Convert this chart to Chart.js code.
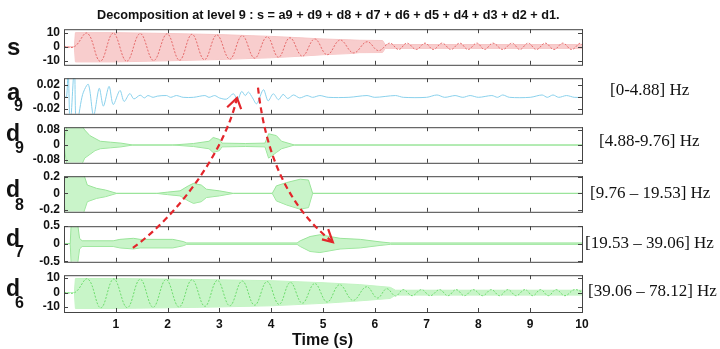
<!DOCTYPE html>
<html>
<head>
<meta charset="utf-8">
<script src="https://cdn.jsdelivr.net/npm/chart.js@4.4.1/dist/chart.umd.min.js"></script>
<style>
  body { margin: 0; background: #fff; }
  #fig { position: relative; width: 720px; height: 349px; overflow: hidden; background: #fff;
         font-family: "Liberation Sans", Arial, sans-serif; color: #111; }
  .panel { position: absolute; left: 0; }
  .lbl { position: absolute; font-weight: bold; line-height: 1; white-space: nowrap; }
  .hz { position: absolute; font-family: "Liberation Serif", "Times New Roman", serif; font-size: 17px;
        line-height: 17px; white-space: nowrap; color: #111; }
  #overlay { position: absolute; left: 0; top: 0; pointer-events: none; }
</style>
</head>
<body>
<div id="fig">
  <canvas class="panel" id="pS"  width="720" height="58" style="top:18px"></canvas>
  <canvas class="panel" id="pA9" width="720" height="58" style="top:67px"></canvas>
  <canvas class="panel" id="pD9" width="720" height="58" style="top:116px"></canvas>
  <canvas class="panel" id="pD8" width="720" height="58" style="top:165px"></canvas>
  <canvas class="panel" id="pD7" width="720" height="58" style="top:215px"></canvas>
  <canvas class="panel" id="pD6" width="720" height="78" style="top:264px"></canvas>

  <div class="lbl" style="left:97px;top:9px;font-size:12.7px">Decomposition at level 9 : s = a9 + d9 + d8 + d7 + d6 + d5 + d4 + d3 + d2 + d1.</div>

  <div class="lbl" style="left:7px;top:35px;font-size:24px">s</div>
  <div class="lbl" style="left:7px;top:80px;font-size:24px">a</div>
  <div class="lbl" style="left:14px;top:98px;font-size:16px">9</div>
  <div class="lbl" style="left:6px;top:121.5px;font-size:23px">d</div>
  <div class="lbl" style="left:15px;top:139.5px;font-size:16px">9</div>
  <div class="lbl" style="left:6px;top:177.5px;font-size:23px">d</div>
  <div class="lbl" style="left:15px;top:196.5px;font-size:16px">8</div>
  <div class="lbl" style="left:6px;top:226.5px;font-size:23px">d</div>
  <div class="lbl" style="left:15px;top:244px;font-size:16px">7</div>
  <div class="lbl" style="left:6px;top:277px;font-size:23px">d</div>
  <div class="lbl" style="left:15px;top:295px;font-size:16px">6</div>

  <div class="hz" style="left:610px;top:81px">[0-4.88] Hz</div>
  <div class="hz" style="left:599px;top:132px">[4.88-9.76] Hz</div>
  <div class="hz" style="left:590px;top:184px">[9.76 – 19.53] Hz</div>
  <div class="hz" style="left:585px;top:234px">[19.53 – 39.06] Hz</div>
  <div class="hz" style="left:588px;top:282px">[39.06 – 78.12] Hz</div>

  <div class="lbl" style="left:292px;top:331.5px;font-size:16px">Time (s)</div>

  <canvas id="overlay" width="720" height="349"></canvas>
</div>

<script>
// time axis (s)
const timeTicks = [1, 2, 3, 4, 5, 6, 7, 8, 9, 10];

// s : original signal (dense band + visible slow wave)
const sBandTime = [0, 0.2, 0.22, 1, 2, 3, 4, 4.5, 5, 5.5, 5.7, 6.15, 6.2, 10];
const sBandHigh = [0, 0, 10.2, 10.2, 9.6, 8.8, 7.5, 6.6, 5.6, 5, 4.7, 4.5, 1.6, 1.6];
const sBandLow  = [0, 0, -11, -11, -10.2, -9.3, -8, -7, -5.8, -5, -4.3, -4.2, -1.3, -1.3];
const sWaveTime = [0, 0.2, 0.45, 0.7, 0.95, 1.21, 1.47, 1.73, 1.99, 2.23, 2.47, 2.71, 2.95, 3.2, 3.44, 3.68, 3.92, 4.14, 4.36, 4.6,
                   4.84, 5.08, 5.33, 5.59, 5.85, 6.07, 6.29, 6.46, 6.62, 6.8, 6.97, 7.13, 7.3, 7.47, 7.64, 7.8, 7.97, 8.12, 8.28, 8.47,
                   8.65, 8.8, 8.96, 9.12, 9.29, 9.46, 9.63, 9.8, 9.96, 10];
const sWaveValue = [0, 0, 9.8, -10.5, 9.8, -10.5, 9.5, -10, 9.3, -9.8, 9, -9.4, 8.5, -9, 8, -8.3, 7.2, -7.6, 6.5, -6.8,
                    5.6, -5.8, 4.8, -4.5, 3.6, -2.8, 2.6, -2, 2.6, -2, 2.6, -2, 2.6, -2, 2.6, -2, 2.6, -2, 2.6, -2,
                    2.6, -2, 2.6, -2, 2.6, -2, 2.6, -2, 2.6, 1.5];
const sTicks = [-10, 0, 10];

// a9 : approximation [0-4.88] Hz
const a9Time = [0, 0.05, 0.08, 0.12, 0.2, 0.24, 0.36, 0.47, 0.57, 0.68, 0.76, 0.87, 0.95, 1.08, 1.16, 1.27, 1.35, 1.47, 1.55, 1.62,
                1.72, 1.8, 1.98, 2.06, 2.17, 2.3, 2.5, 2.72, 2.8, 2.91, 3.0, 3.14, 3.27, 3.35, 3.43, 3.5, 3.56, 3.64, 3.72, 3.85,
                3.94, 4.04, 4.14, 4.23, 4.32, 4.43, 4.55, 4.69, 4.8, 4.94, 5.1, 5.5, 5.85, 6.0, 6.4, 6.55, 7.0, 7.2, 7.35, 7.55,
                7.7, 7.84, 8.0, 8.26, 8.37, 8.47, 8.6, 9.0, 9.23, 9.33, 9.44, 9.55, 9.7, 9.85, 10];
const a9Value = [0, 0, 0.05, -0.05, 0.05, -0.05, 0.004, 0.021, -0.032, 0.0144, -0.016, 0.0176, -0.0133, 0.0107, -0.008, 0.0053, -0.0037, 0.0027, -0.002, 0.002,
                 -0.001, 0.001, 0.002, -0.001, 0.002, -0.001, -0.001, 0.002, -0.001, 0.002, -0.002, -0.004, 0.005, -0.005, 0.009, 0.002, 0.008, -0.002, -0.012, 0.012,
                 -0.007, 0.005, -0.005, 0.004, -0.003, 0.003, -0.002, 0.002, -0.001, 0.002, -0.001, -0.001, 0.002, -0.001, 0.002, -0.001, -0.001, 0.003, -0.001, 0.002,
                 -0.001, 0.002, -0.001, 0.002, -0.001, 0.003, -0.001, -0.001, 0.003, -0.001, 0.003, -0.001, 0.002, -0.001, -0.001];
const a9Ticks = [-0.02, 0, 0.02];

// d9 : detail [4.88-9.76] Hz (envelope of the oscillation)
const d9Time = [0, 0.05, 0.35, 0.4, 0.5, 0.6, 0.7, 0.9, 1.1, 1.33, 2.1, 2.5, 2.8, 2.88, 3.0, 3.05, 3.5, 3.88, 3.95, 4.1, 4.2, 4.45, 10];
const d9High = [0, 0.1, 0.1, 0.08, 0.05, 0.035, 0.02, 0.015, 0.01, 0, 0, 0.008, 0.02, 0.04, 0.03, 0.01, 0.008, 0.01, 0.06, 0.05, 0.02, 0, 0];
const d9Low  = [0, -0.1, -0.1, -0.07, -0.05, -0.03, -0.02, -0.015, -0.01, 0, 0, -0.008, -0.02, -0.04, -0.03, -0.01, -0.008, -0.01, -0.07, -0.04, -0.02, 0, 0];
const d9Ticks = [-0.08, 0, 0.08];

// d8 : detail [9.76-19.53] Hz
const d8Time = [0, 0.02, 0.37, 0.45, 0.63, 0.8, 1.02, 1.79, 2.0, 2.24, 2.4, 2.5, 2.65, 2.75, 3.0, 3.27, 4.02, 4.1, 4.3, 4.56, 4.72, 4.8, 10];
const d8High = [0, 0.25, 0.25, 0.1, 0.06, 0.04, 0, 0, 0.015, 0.03, 0.09, 0.12, 0.1, 0.05, 0.03, 0, 0, 0.09, 0.13, 0.17, 0.16, 0, 0];
const d8Low  = [0, -0.25, -0.25, -0.1, -0.06, -0.04, 0, 0, -0.015, -0.03, -0.09, -0.12, -0.1, -0.05, -0.03, 0, 0, -0.09, -0.14, -0.19, -0.17, 0, 0];
const d8Ticks = [-0.2, 0, 0.2];

// d7 : detail [19.53-39.06] Hz
const d7Time = [0, 0.12, 0.14, 0.26, 0.3, 0.35, 0.95, 1.08, 1.34, 1.47, 2.1, 2.3, 2.37, 4.5, 4.56, 4.75, 4.94, 5.33, 5.72, 6.1, 6.3, 10];
const d7High = [0, 0, 0.6, 0.6, 0.15, 0.08, 0.08, 0.12, 0.15, 0.12, 0.12, 0.06, 0.02, 0.02, 0.08, 0.2, 0.25, 0.15, 0.12, 0.05, 0.02, 0.02];
const d7Low  = [0, 0, -0.6, -0.6, -0.15, -0.08, -0.08, -0.12, -0.15, -0.12, -0.12, -0.06, -0.02, -0.02, -0.08, -0.22, -0.25, -0.15, -0.12, -0.05, -0.02, -0.02];
const d7Ticks = [-0.5, 0, 0.5];

// d6 : detail [39.06-78.12] Hz
const d6BandTime = [0, 0.2, 0.22, 1, 2, 3, 4, 5, 5.7, 6.3, 6.4, 10];
const d6BandHigh = [0, 0, 9.7, 9.7, 9.3, 8.8, 8.2, 6.8, 5.5, 3.6, 1.6, 1.6];
const d6BandLow  = [0, 0, -11, -11, -10.6, -10, -9.2, -7.5, -5.8, -4.1, -1.8, -1.8];
const d6WaveTime = [0, 0.21, 0.46, 0.71, 0.96, 1.22, 1.47, 1.72, 1.97, 2.22, 2.47, 2.72, 2.96, 3.2, 3.44, 3.68, 3.92, 4.15, 4.37, 4.6,
                    4.84, 5.08, 5.32, 5.58, 5.84, 6.05, 6.23, 6.4, 6.55, 6.72, 6.9, 7.07, 7.25, 7.41, 7.57, 7.73, 7.9, 8.08, 8.25, 8.41,
                    8.57, 8.73, 8.9, 9.05, 9.2, 9.35, 9.5, 9.67, 9.85, 10];
const d6WaveValue = [0, 0, 9.4, -10.6, 9.4, -10.5, 9.2, -10.2, 9, -10, 8.8, -9.6, 8.4, -9.2, 8, -8.8, 7.6, -8.2, 7, -7.4,
                     6.2, -6.6, 5.4, -5.4, 4, -3.8, 2.6, -2.4, 2, -2.2, 2, -2.2, 2, -2.2, 2, -2.2, 2, -2.2, 2, -2.2,
                     2, -2.2, 2, -2.2, 2, -2.2, 2, -2.2, 2, 0.5];
const d6Ticks = [-10, 0, 10];

// red dashed arrows: [time, panel index, value on that panel]
const arrowUp   = [[1.33, 4, -0.116], [2.24, 3, -0.244], [3.11, 2, -0.025], [3.34, 1, -0.002]];
const arrowUpHead = [[3.15, 1, -0.0178], [3.42, 1, -0.021]];
const arrowDown = [[3.745, 1, 0.0156], [3.88, 2, -0.025], [4.266, 3, -0.1315], [5.19, 4, 0.042]];
const arrowDownHead = [[4.98, 4, 0.121], [5.10, 4, 0.41]];

const tickFont = { family: '"Liberation Sans", Arial, sans-serif', size: 12, weight: 'bold' };
const pts = (ts, vs) => ts.map((t, i) => ({ x: t, y: vs[i] }));

// upper envelope fills down to the lower one
function band(ts, hi, lo, line, fill) {
    return [
        { data: pts(ts, hi), borderColor: line, borderWidth: 1, backgroundColor: fill, fill: '+1', tension: 0 },
        { data: pts(ts, lo), borderColor: line, borderWidth: 1, fill: false, tension: 0 }
    ];
}
function wave(ts, vs, color, tension, dash) {
    return { data: pts(ts, vs), borderColor: color, borderWidth: 1, borderDash: dash, fill: false, tension: tension };
}

// MATLAB style box with inward ticks
const boxFrame = {
    id: 'boxFrame',
    afterDraw(chart) {
        const { ctx, chartArea: a, scales } = chart;
        ctx.save();
        ctx.strokeStyle = '#444';
        ctx.lineWidth = 1;
        ctx.strokeRect(a.left + 0.5, a.top + 0.5, a.right - a.left, a.bottom - a.top);
        ctx.beginPath();
        timeTicks.forEach(t => {
            const x = Math.round(scales.x.getPixelForValue(t)) + 0.5;
            ctx.moveTo(x, a.top); ctx.lineTo(x, a.top + 4);
            ctx.moveTo(x, a.bottom); ctx.lineTo(x, a.bottom - 4);
        });
        scales.y.ticks.forEach(tk => {
            const y = Math.round(scales.y.getPixelForValue(tk.value)) + 0.5;
            ctx.moveTo(a.left, y); ctx.lineTo(a.left + 4, y);
            ctx.moveTo(a.right, y); ctx.lineTo(a.right - 4, y);
        });
        ctx.stroke();
        ctx.restore();
    }
};

function makePanel(id, min, max, ticks, datasets, showTime) {
    return new Chart(document.getElementById(id), {
        type: 'line',
        data: { datasets: datasets },
        options: {
            responsive: false,
            animation: false,
            devicePixelRatio: 1,
            layout: { padding: { left: 0, right: 138, top: 10, bottom: 10 } },
            plugins: { legend: { display: false }, tooltip: { enabled: false } },
            elements: { point: { radius: 0 } },
            scales: {
                x: {
                    type: 'linear', min: 0, max: 10, display: showTime,
                    grid: { display: false, drawTicks: false },
                    border: { display: false },
                    afterBuildTicks: ax => { ax.ticks = timeTicks.map(v => ({ value: v })); },
                    ticks: { padding: 5, color: '#111', font: tickFont, maxRotation: 0, autoSkip: false },
                    afterFit: ax => { ax.height = showTime ? 20 : 0; }
                },
                y: {
                    min: min, max: max,
                    grid: { display: false, drawTicks: false },
                    border: { display: false },
                    afterBuildTicks: ax => { ax.ticks = ticks.map(v => ({ value: v })); },
                    ticks: { padding: 4, color: '#111', font: tickFont, autoSkip: false, callback: v => String(v) },
                    afterFit: ax => { ax.width = 64; }
                }
            }
        },
        plugins: [boxFrame]
    });
}

const green = '#9ae49a';
const greenFill = 'rgba(172, 238, 172, 0.65)';

// wave first so it is drawn above its band
const panels = [
    makePanel('pS', -13.1, 12.7, sTicks,
        [wave(sWaveTime, sWaveValue, '#e56a6a', 0.4, [2, 1.5]), ...band(sBandTime, sBandHigh, sBandLow, '#f6c6c6', '#f8cdcd')], false),
    makePanel('pA9', -0.029, 0.0315, a9Ticks,
        [wave(a9Time, a9Value, '#8ad1ec', 0.3, [])], false),
    makePanel('pD9', -0.095, 0.095, d9Ticks,
        band(d9Time, d9High, d9Low, green, greenFill), false),
    makePanel('pD8', -0.221, 0.206, d8Ticks,
        band(d8Time, d8High, d8Low, green, greenFill), false),
    makePanel('pD7', -0.51, 0.49, d7Ticks,
        band(d7Time, d7High, d7Low, green, greenFill), false),
    makePanel('pD6', -13.5, 12, d6Ticks,
        [wave(d6WaveTime, d6WaveValue, '#6ddc6d', 0.4, [2, 1.5]), ...band(d6BandTime, d6BandHigh, d6BandLow, '#c3f4c3', '#c8f5c8')], true)
];

// arrows drawn on top of all panels, positioned through each panel's scales
const fig = document.getElementById('fig');
const overlay = document.getElementById('overlay');
const octx = overlay.getContext('2d');

function toPage(p) {
    const chart = panels[p[1]];
    const off = chart.canvas.getBoundingClientRect().top - fig.getBoundingClientRect().top;
    return [chart.scales.x.getPixelForValue(p[0]), chart.scales.y.getPixelForValue(p[2]) + off];
}

function drawArrow(path, head) {
    const [p0, p1, p2, p3] = path.map(toPage);
    octx.save();
    octx.strokeStyle = '#e3262b';
    octx.lineWidth = 2.2;
    octx.setLineDash([6, 4]);
    octx.beginPath();
    octx.moveTo(p0[0], p0[1]);
    octx.bezierCurveTo(p1[0], p1[1], p2[0], p2[1], p3[0], p3[1]);
    octx.stroke();
    octx.setLineDash([]);
    const [h1, h2] = head.map(toPage);
    octx.beginPath();
    octx.moveTo(h1[0], h1[1]);
    octx.lineTo(p3[0], p3[1]);
    octx.lineTo(h2[0], h2[1]);
    octx.stroke();
    octx.restore();
}

drawArrow(arrowUp, arrowUpHead);
drawArrow(arrowDown, arrowDownHead);
</script>
</body>
</html>
